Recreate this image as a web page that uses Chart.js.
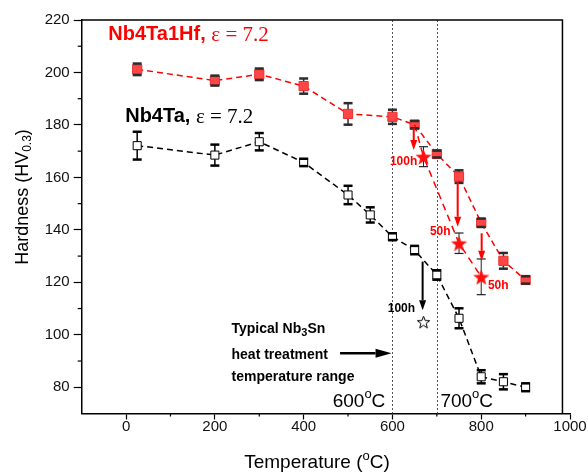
<!DOCTYPE html>
<html>
<head>
<meta charset="utf-8">
<script src="https://cdn.jsdelivr.net/npm/chart.js@4/dist/chart.umd.min.js"></script>
<style>
  html, body { margin: 0; padding: 0; background: #fff; }
</style>
</head>
<body>
<canvas id="chart" width="588" height="476"></canvas>
<script>
// hardness (HV0.3) vs annealing temperature (C)
const hfTemps = [25, 200, 300, 400, 500, 600, 650, 700, 750, 800, 850, 900];
const hfHard = [201.2, 196.9, 199.3, 194.8, 184.2, 183.1, 180.1, 168.9, 160.3, 142.7, 128.2, 120.9];
const hfErr = [2.2, 1.9, 2.2, 2.9, 4.1, 2.7, 1.4, 1.3, 2.4, 1.6, 3.0, 1.4];

const taTemps = [25, 200, 300, 400, 500, 550, 600, 650, 700, 750, 800, 850, 900];
const taHard = [172.1, 168.5, 173.6, 165.7, 153.3, 145.7, 137.4, 132.3, 122.8, 106.3, 84.0, 82.1, 80.0];
const taErr = [5.3, 4.0, 3.3, 1.4, 3.5, 2.9, 1.3, 1.6, 1.8, 3.8, 2.5, 2.9, 1.5];

// long anneals (stars), first red entry is the 650 starting point of the line
const hfAgedTemps = [650, 670, 750, 800];
const hfAgedHard = [180.1, 167.9, 134.9, 122.1];
const hfAgedErr = [0, 3.8, 3.9, 6.8];
const taAgedTemps = [670];
const taAgedHard = [105.0];

const xTicks = [0, 200, 400, 600, 800, 1000];
const yTicks = [80, 100, 120, 140, 160, 180, 200, 220];
const rangeLines = [600, 700];

// drop arrows after long anneal
const arrowX = [648, 747, 801, 668];
const arrowFrom = [178.8, 158.3, 138.7, 127.9];
const arrowTo = [170.4, 141.2, 128.2, 109.4];

const SANS = 'Liberation Sans, Arial, sans-serif';
const SERIF = 'Liberation Serif, Times New Roman, serif';

function makeStar(r, fill, stroke) {
  const c = document.createElement('canvas');
  const s = Math.ceil(r * 2 + 4);
  c.width = s; c.height = s;
  const g = c.getContext('2d');
  g.beginPath();
  for (let i = 0; i < 10; i++) {
    const a = -Math.PI / 2 + i * Math.PI / 5;
    const rr = i % 2 ? r * 0.42 : r;
    const x = s / 2 + rr * Math.cos(a), y = s / 2 + 1 + rr * Math.sin(a);
    if (i === 0) g.moveTo(x, y); else g.lineTo(x, y);
  }
  g.closePath();
  if (fill) { g.fillStyle = fill; g.fill(); }
  if (stroke) { g.strokeStyle = stroke; g.lineWidth = 1; g.stroke(); }
  return c;
}
const redStar = makeStar(8.5, '#ff1010', null);
const blackStar = makeStar(6.5, '#fff', '#000');

const pts = (xs, ys) => xs.map((x, i) => ({ x: x, y: ys[i] }));

// text made of runs with different fonts / offsets
function runs(ctx, x, y, parts, align) {
  let w = 0;
  parts.forEach(p => { ctx.font = p.font; w += ctx.measureText(p.t).width; });
  let cx = align === 'right' ? x - w : align === 'center' ? x - w / 2 : x;
  ctx.textBaseline = 'middle';
  ctx.textAlign = 'left';
  parts.forEach(p => {
    ctx.font = p.font;
    ctx.fillStyle = p.color || '#000';
    ctx.fillText(p.t, cx, y + (p.dy || 0));
    cx += ctx.measureText(p.t).width;
  });
}

function arrow(ctx, x1, y1, x2, y2, color, lw, hl, hw) {
  const a = Math.atan2(y2 - y1, x2 - x1);
  ctx.save();
  ctx.strokeStyle = color; ctx.fillStyle = color; ctx.lineWidth = lw;
  ctx.beginPath();
  ctx.moveTo(x1, y1);
  ctx.lineTo(x2 - hl * Math.cos(a), y2 - hl * Math.sin(a));
  ctx.stroke();
  ctx.translate(x2, y2); ctx.rotate(a);
  ctx.beginPath();
  ctx.moveTo(0, 0); ctx.lineTo(-hl, -hw / 2); ctx.lineTo(-hl, hw / 2);
  ctx.closePath(); ctx.fill();
  ctx.restore();
}

const extras = {
  id: 'extras',
  beforeDatasetsDraw(chart) {
    const ctx = chart.ctx, xs = chart.scales.x, ys = chart.scales.y, a = chart.chartArea;
    ctx.save();
    // 600 / 700 C guide lines
    ctx.strokeStyle = '#555'; ctx.lineWidth = 1; ctx.setLineDash([2, 2]);
    rangeLines.forEach(v => {
      const x = Math.round(xs.getPixelForValue(v)) + 0.5;
      ctx.beginPath(); ctx.moveTo(x, a.top); ctx.lineTo(x, a.bottom); ctx.stroke();
    });
    ctx.setLineDash([]);
    // error bar stems
    chart.data.datasets.forEach((ds, i) => {
      if (!ds.errors) return;
      chart.getDatasetMeta(i).data.forEach((p, j) => {
        const e = ds.errors[j];
        if (!e) return;
        ctx.strokeStyle = ds.errColor; ctx.lineWidth = ds.errStem;
        ctx.beginPath();
        ctx.moveTo(p.x, ys.getPixelForValue(ds.data[j].y + e));
        ctx.lineTo(p.x, ys.getPixelForValue(ds.data[j].y - e));
        ctx.stroke();
      });
    });
    ctx.restore();
  },
  afterDatasetsDraw(chart) {
    const ctx = chart.ctx, xs = chart.scales.x, ys = chart.scales.y, a = chart.chartArea;
    const X = v => xs.getPixelForValue(v), Y = v => ys.getPixelForValue(v);
    ctx.save();
    // error bar caps
    chart.data.datasets.forEach((ds, i) => {
      if (!ds.errors) return;
      chart.getDatasetMeta(i).data.forEach((p, j) => {
        const e = ds.errors[j];
        if (!e) return;
        ctx.strokeStyle = ds.errColor; ctx.lineWidth = ds.errCap;
        [e, -e].forEach(d => {
          const y = Y(ds.data[j].y + d);
          ctx.beginPath(); ctx.moveTo(p.x - 4.5, y); ctx.lineTo(p.x + 4.5, y); ctx.stroke();
        });
      });
    });
    // frame top / right
    const fr = X(983);
    ctx.strokeStyle = '#000'; ctx.lineWidth = 1.5;
    ctx.beginPath();
    ctx.moveTo(a.left, a.top); ctx.lineTo(fr, a.top); ctx.lineTo(fr, a.bottom);
    ctx.stroke();
    // minor ticks
    ctx.lineWidth = 1.2;
    for (let v = 90; v < 220; v += 20) {
      const y = Y(v);
      ctx.beginPath(); ctx.moveTo(a.left - 4, y); ctx.lineTo(a.left, y); ctx.stroke();
    }
    for (let v = 100; v < 1000; v += 200) {
      const x = X(v);
      ctx.beginPath(); ctx.moveTo(x, a.bottom); ctx.lineTo(x, a.bottom + 3); ctx.stroke();
    }
    // arrows
    arrowX.forEach((x, i) => {
      const col = i < 3 ? '#ff0000' : '#000';
      arrow(ctx, X(x), Y(arrowFrom[i]), X(x), Y(arrowTo[i]), col, 2, 10, 7);
    });
    arrow(ctx, X(482), Y(93), X(598), Y(93), '#000', 2.5, 16, 9);
    // labels
    const red = '#ff0000';
    runs(ctx, X(656), Y(165.9), [{ t: '100h', font: 'bold 12px ' + SANS, color: red }], 'right');
    runs(ctx, X(731), Y(139.3), [{ t: '50h', font: 'bold 12px ' + SANS, color: red }], 'right');
    runs(ctx, X(815), Y(118.6), [{ t: '50h', font: 'bold 12px ' + SANS, color: red }], 'left');
    runs(ctx, X(651), Y(109.8), [{ t: '100h', font: 'bold 12px ' + SANS }], 'right');

    runs(ctx, X(-40), Y(214.3), [
      { t: 'Nb4Ta1Hf, ', font: 'bold 20px ' + SANS, color: red },
      { t: '\u03b5 = 7.2', font: '21px ' + SERIF, color: red, dy: 1 }
    ], 'left');
    runs(ctx, X(-2), Y(183.1), [
      { t: 'Nb4Ta, ', font: 'bold 20px ' + SANS },
      { t: '\u03b5 = 7.2', font: '21px ' + SERIF, dy: 1 }
    ], 'left');

    const b14 = 'bold 14px ' + SANS;
    runs(ctx, X(237.5), Y(102.2), [
      { t: 'Typical Nb', font: b14 }, { t: '3', font: 'bold 11px ' + SANS, dy: 4 }, { t: 'Sn', font: b14 }
    ], 'left');
    runs(ctx, X(237.5), Y(92.3), [{ t: 'heat treatment', font: b14 }], 'left');
    runs(ctx, X(237.5), Y(83.9), [{ t: 'temperature range', font: b14 }], 'left');

    const f19 = '19px ' + SANS, sup = '13px ' + SANS;
    runs(ctx, X(584), Y(74.5), [{ t: '600', font: f19 }, { t: 'o', font: sup, dy: -7 }, { t: 'C', font: f19 }], 'right');
    runs(ctx, X(708), Y(74.5), [{ t: '700', font: f19 }, { t: 'o', font: sup, dy: -7 }, { t: 'C', font: f19 }], 'left');

    // axis titles
    runs(ctx, 317, 463, [
      { t: 'Temperature (', font: f19 }, { t: 'o', font: sup, dy: -7 }, { t: 'C)', font: f19 }
    ], 'center');
    ctx.translate(23, 197);
    ctx.rotate(-Math.PI / 2);
    runs(ctx, 0, 0, [
      { t: 'Hardness (HV', font: '18px ' + SANS }, { t: '0.3', font: '12px ' + SANS, dy: 5 }, { t: ')', font: '18px ' + SANS }
    ], 'center');
    ctx.restore();
  }
};

new Chart(document.getElementById('chart'), {
  type: 'line',
  data: {
    datasets: [
      {
        data: pts(hfTemps, hfHard), errors: hfErr, errColor: '#2b2b2b', errStem: 1.5, errCap: 2.5,
        borderColor: '#ff0000', borderWidth: 1.5, borderDash: [6, 4],
        pointStyle: 'rect', pointRadius: 6.5, pointBackgroundColor: '#ff4545',
        pointBorderColor: '#e53030', pointBorderWidth: 1, order: 2
      },
      {
        data: pts(hfAgedTemps, hfAgedHard), errors: hfAgedErr, errColor: '#222', errStem: 1, errCap: 1.2,
        borderColor: '#ff0000', borderWidth: 1.5, borderDash: [7, 5],
        pointStyle: redStar, pointRadius: c => c.dataIndex === 0 ? 0 : 8, order: 1
      },
      {
        data: pts(taTemps, taHard), errors: taErr, errColor: '#000', errStem: 1.5, errCap: 2.5,
        borderColor: '#000', borderWidth: 1.5, borderDash: [6, 4],
        pointStyle: 'rect', pointRadius: 5.7, pointBackgroundColor: '#fff',
        pointBorderColor: '#000', pointBorderWidth: 1, order: 3
      },
      {
        data: pts(taAgedTemps, taAgedHard), showLine: false,
        pointStyle: blackStar, pointRadius: 7, order: 0
      }
    ]
  },
  options: {
    responsive: false,
    animation: false,
    layout: { padding: { top: 20, right: 18, left: 0, bottom: 0 } },
    plugins: { legend: { display: false }, tooltip: { enabled: false } },
    scales: {
      x: {
        type: 'linear', min: -100, max: 1000,
        afterBuildTicks: s => { s.ticks = xTicks.map(v => ({ value: v })); },
        afterFit: s => { s.height = 62.5; },
        ticks: {
          font: { family: SANS, size: 15 }, color: '#111', padding: -2, maxRotation: 0, autoSkip: false,
          callback: v => String(v)
        },
        grid: { drawOnChartArea: false, tickLength: 6, color: '#000', tickWidth: 1.2 },
        border: { color: '#000', width: 1.5 }
      },
      y: {
        type: 'linear', min: 70, max: 220,
        afterBuildTicks: s => { s.ticks = yTicks.map(v => ({ value: v })); },
        afterFit: s => { s.width = 81.7; },
        ticks: { font: { family: SANS, size: 15 }, color: '#111', padding: 4, autoSkip: false, callback: v => String(v) },
        grid: { drawOnChartArea: false, tickLength: 8, color: '#000', tickWidth: 1.2 },
        border: { color: '#000', width: 1.5 }
      }
    }
  },
  plugins: [extras]
});
</script>
</body>
</html>
